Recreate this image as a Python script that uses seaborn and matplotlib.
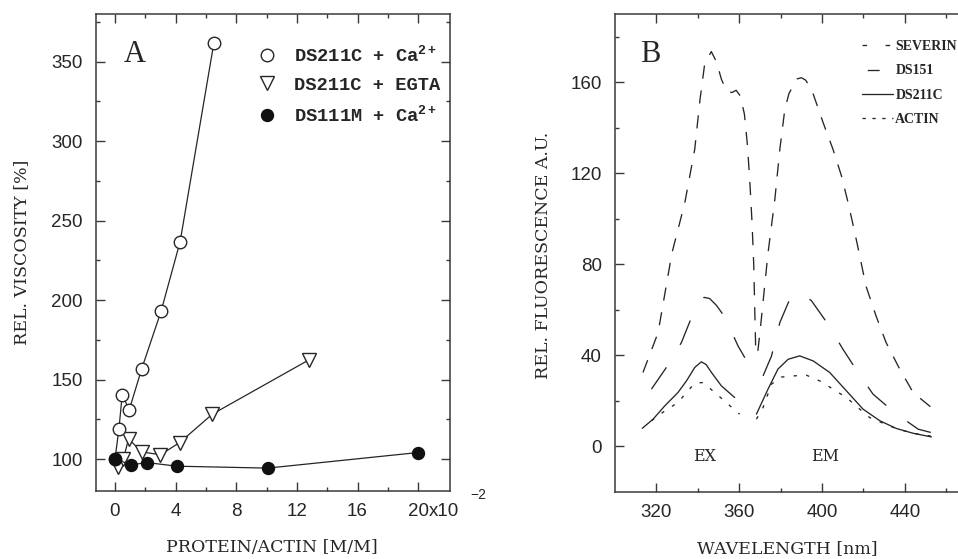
import numpy as np
import pandas as pd
import matplotlib
matplotlib.use("Agg")
import matplotlib.pyplot as plt
from matplotlib.lines import Line2D
from matplotlib.ticker import FixedLocator
import seaborn as sns

# ---------------- Panel A data ----------------
circ_x = [0.0, 0.26, 0.48, 0.94, 1.76, 3.05, 4.3, 6.52]
circ_y = [100, 118.8, 140.6, 131, 156.7, 193.3, 236.9, 361.5]
tri_x = [0.22, 0.55, 0.9, 1.76, 3.0, 4.26, 6.42, 12.8]
tri_y = [95.2, 100, 112.8, 104.6, 102.8, 110.4, 128.3, 162.5]
fill_x = [0.0, 1.05, 2.09, 4.1, 10.07, 20.0]
fill_y = [100.4, 96.4, 97.9, 95.6, 94.4, 104.2]
labels_A = ["DS211C + Ca$^{2+}$", "DS211C + EGTA", "DS111M + Ca$^{2+}$"]
xticks_A = [0, 4, 8, 12, 16, 20]
yticks_A = [100, 150, 200, 250, 300, 350]

# ---------------- Panel B data ----------------
sev_ex_wl = [313.5, 320.8, 327.5, 333.7, 338.5, 341, 343.3, 346.5, 349, 351.4, 354, 356.5, 358.5, 360.5, 362.5, 364, 365.2, 366.2, 367, 367.5, 368]
sev_ex_val = [32.5, 50, 85, 107, 130.5, 152, 168, 173.5, 169, 161.3, 156, 155.5, 156.5, 154, 146, 132, 115, 98, 80, 60, 41]
sev_em_wl = [369, 370, 372, 373.9, 377.2, 379.6, 382, 384, 386, 388, 390, 392, 394.9, 400.5, 405.3, 409.4, 412.6, 415.8, 418.2, 421.2, 426.1, 430.9, 437.5, 444, 452.8]
sev_em_val = [42, 50, 68, 85, 108.6, 130.5, 148, 155, 158.5, 161.5, 162, 161, 157, 142.3, 130.5, 118.8, 107, 94, 83.7, 70.5, 57.3, 45.7, 34, 23.7, 17.1]
ds151_ex_wl = [317.6, 324.8, 332.1, 336.9, 340, 343, 345.7, 349, 353.8, 357, 359.4, 362.7]
ds151_ex_val = [25.2, 34.7, 45.7, 56.6, 62.5, 65.5, 65, 62, 55.9, 49, 44.2, 39]
ds151_em_wl = [371.5, 375.6, 379.6, 384.4, 388, 391, 394.9, 402.9, 410.1, 417.4, 424.6, 435, 446.4, 452.8]
ds151_em_val = [31, 39.8, 54.4, 64.7, 67.5, 67, 64, 53.7, 42.7, 32.5, 23, 14.9, 7.6, 6.1]
ds211_ex_wl = [313.2, 318.4, 324, 330.4, 334.5, 338.5, 341.7, 344, 346.6, 351.4, 357.8]
ds211_ex_val = [8, 12, 17.8, 23.7, 28.8, 34.7, 37.2, 36, 32.5, 26.6, 21.5]
ds211_em_wl = [368.3, 373.9, 378.7, 383.6, 389.2, 395.7, 403.7, 411.8, 419.8, 427.9, 435.9, 444, 452.8]
ds211_em_val = [14.2, 25.2, 34, 38.3, 39.8, 37.6, 32.5, 24.4, 16.4, 11.3, 7.9, 5.8, 4.2]
actin_ex_wl = [317.6, 324, 330.4, 334.5, 338.5, 342.5, 348.2, 354.6, 360.2]
actin_ex_val = [11.3, 15.6, 19.3, 23.7, 27.8, 28.1, 23.7, 18.6, 14.2]
actin_em_wl = [368.3, 371.5, 375.6, 380.4, 386, 392.5, 398.9, 405.3, 411.8, 418.2, 423, 428, 436, 444, 452.8]
actin_em_val = [12, 17.1, 27.4, 30.5, 31, 31.3, 28.8, 25.2, 21.5, 16.4, 12.7, 10.8, 7.8, 5.8, 4.5]
samples_B = ["SEVERIN", "DS151", "DS211C", "ACTIN"]
xticks_B = [320, 360, 400, 440]
yticks_B = [0, 40, 80, 120, 160]

# ---------------- style ----------------
sns.set_theme(style="ticks")
plt.rcParams["font.family"] = ["Liberation Sans", "DejaVu Sans"]
plt.rcParams["mathtext.fontset"] = "custom"
plt.rcParams["mathtext.rm"] = "Liberation Mono:bold"
plt.rcParams["mathtext.it"] = "Liberation Mono:bold"
plt.rcParams["mathtext.bf"] = "Liberation Mono:bold"

INK = "#262626"
SPINE = "#3a3a3a"
mono = {"family": "Liberation Mono", "size": 13.5, "weight": "bold"}
serif_lab = {"family": "DejaVu Serif", "size": 12.5}

fig = plt.figure(figsize=(9.58, 5.59), dpi=100)
W, H = 958, 559
axA = fig.add_axes([96 / W, 1 - 491 / H, (450 - 96) / W, (491 - 14) / H])
axB = fig.add_axes([615 / W, 1 - 492 / H, (967 - 615) / W, (492 - 14) / H])

# ---------------- Panel A ----------------
dfA_tri = pd.DataFrame({"x": tri_x, "y": tri_y})
dfA_circ = pd.DataFrame({"x": circ_x, "y": circ_y})
dfA_fill = pd.DataFrame({"x": fill_x, "y": fill_y})

sns.lineplot(data=dfA_tri, x="x", y="y", ax=axA, sort=False, estimator=None,
             color=INK, lw=0.9, marker="v", markersize=10, markerfacecolor="white",
             markeredgecolor=INK, markeredgewidth=1.0)
sns.lineplot(data=dfA_circ, x="x", y="y", ax=axA, sort=False, estimator=None,
             color=INK, lw=0.9, marker="o", markersize=9, markerfacecolor="white",
             markeredgecolor=INK, markeredgewidth=1.0)
sns.lineplot(data=dfA_fill, x="x", y="y", ax=axA, sort=False, estimator=None,
             color=INK, lw=0.9, marker="o", markersize=8.6, markerfacecolor="#111111",
             markeredgecolor="#111111", markeredgewidth=1.0)

axA.set_xlim(-1.25, 22.1)
axA.set_ylim(80, 380)
axA.xaxis.set_major_locator(FixedLocator(xticks_A))
axA.xaxis.set_minor_locator(FixedLocator([2, 6, 10, 14, 18]))
axA.yaxis.set_major_locator(FixedLocator(yticks_A))
axA.yaxis.set_minor_locator(FixedLocator([125, 175, 225, 275, 325, 375]))
axA.set_xticklabels([str(t) for t in xticks_A])
axA.set_yticklabels([str(t) for t in yticks_A])

axA.annotate("x10", xy=(20, 0), xycoords=("data", "axes fraction"),
             xytext=(7.3, -8.6), textcoords="offset points", ha="left", va="top",
             fontsize=13.5, color=INK)
axA.annotate("\u22122", xy=(20, 0), xycoords=("data", "axes fraction"),
             xytext=(37.5, -2.8), textcoords="offset points", ha="left", va="center",
             fontsize=10, color=INK)

axA.text(0.110, 0.916, "A", transform=axA.transAxes, ha="center", va="center",
         fontsize=22, family="Liberation Serif", color=INK)

hA = [Line2D([], [], ls="none", marker="o", ms=9, mfc="white", mec=INK, mew=1.0),
      Line2D([], [], ls="none", marker="v", ms=10, mfc="white", mec=INK, mew=1.0),
      Line2D([], [], ls="none", marker="o", ms=8.6, mfc="#111111", mec="#111111")]
legA = axA.legend(hA, labels_A, loc="upper left",
                  bbox_to_anchor=((258 - 96) / 354, 1 - (45 - 14) / 477),
                  frameon=False, borderaxespad=0, borderpad=0, handlelength=1.0,
                  handletextpad=0.9, labelspacing=0.6, prop=mono)
for t in legA.get_texts():
    t.set_color(INK)

axA.set_xlabel("PROTEIN/ACTIN [M/M]", fontdict=serif_lab, color=INK)
axA.set_ylabel("REL. VISCOSITY [%]", fontdict=serif_lab, color=INK)
axA.xaxis.set_label_coords(0.497, -0.10)
axA.yaxis.set_label_coords(-0.185, 0.5)

# ---------------- Panel B ----------------
segs = [
    ("SEVERIN", "sev_ex", sev_ex_wl, sev_ex_val),
    ("SEVERIN", "sev_em", sev_em_wl, sev_em_val),
    ("DS151", "ds151_ex", ds151_ex_wl, ds151_ex_val),
    ("DS151", "ds151_em", ds151_em_wl, ds151_em_val),
    ("DS211C", "ds211_ex", ds211_ex_wl, ds211_ex_val),
    ("DS211C", "ds211_em", ds211_em_wl, ds211_em_val),
    ("ACTIN", "actin_ex", actin_ex_wl, actin_ex_val),
    ("ACTIN", "actin_em", actin_em_wl, actin_em_val),
]
rows = []
for samp, seg, wl, val in segs:
    for a, b in zip(wl, val):
        rows.append({"sample": samp, "segment": seg, "wl": a, "val": b})
dfB = pd.DataFrame(rows)

dash_map = {"SEVERIN": (10, 9), "DS151": (20, 20), "DS211C": "", "ACTIN": (2.5, 7)}
sns.lineplot(data=dfB, x="wl", y="val", style="sample", style_order=samples_B,
             units="segment", estimator=None, sort=False, dashes=dash_map,
             color=INK, lw=0.95, legend=False, ax=axB)

axB.set_xlim(300, 470)
axB.set_ylim(-20, 190)
axB.xaxis.set_major_locator(FixedLocator(xticks_B))
axB.xaxis.set_minor_locator(FixedLocator([340, 380, 420, 460]))
axB.yaxis.set_major_locator(FixedLocator(yticks_B))
axB.yaxis.set_minor_locator(FixedLocator([20, 60, 100, 140, 180]))
axB.set_xticklabels([str(t) for t in xticks_B])
axB.set_yticklabels([str(t) for t in yticks_B])

axB.text(0.101, 0.916, "B", transform=axB.transAxes, ha="center", va="center",
         fontsize=22, family="Liberation Serif", color=INK)
axB.text(343.3, -4.3, "EX", ha="center", va="center", fontsize=11.5,
         family="DejaVu Serif", color=INK)
axB.text(401.3, -4.3, "EM", ha="center", va="center", fontsize=11.5,
         family="DejaVu Serif", color=INK)

hB = [Line2D([], [], color=INK, lw=0.95, ls=(0, (3.5, 14))),
      Line2D([], [], color=INK, lw=0.95, ls=(28, (9, 23))),
      Line2D([], [], color=INK, lw=0.95),
      Line2D([], [], color=INK, lw=0.95, ls=(0, (2.5, 5)))]
legB = axB.legend(hB, samples_B, loc="upper left",
                  bbox_to_anchor=((862 - 615) / 352, 1 - (40 - 14) / 478),
                  frameon=False, borderaxespad=0, borderpad=0, handlelength=2.2,
                  handletextpad=0.2, labelspacing=0.82,
                  prop={"family": "Liberation Serif", "weight": "bold", "size": 10})
for t in legB.get_texts():
    t.set_color(INK)

axB.set_xlabel("WAVELENGTH [nm]", fontdict=serif_lab, color=INK)
axB.set_ylabel("REL. FLUORESCENCE A.U.", fontdict=serif_lab, color=INK)
axB.xaxis.set_label_coords(0.489, -0.10)
axB.yaxis.set_label_coords(-0.18, 0.495)

# ---------------- common axis styling ----------------
for ax in (axA, axB):
    for sp in ax.spines.values():
        sp.set_visible(True)
        sp.set_color(SPINE)
        sp.set_linewidth(1.1)
    ax.tick_params(which="both", direction="in", top=True, right=True,
                   color=SPINE, width=1.0, labelcolor=INK, labelsize=13.5)
    ax.tick_params(which="major", length=6.5)
    ax.tick_params(which="minor", length=3.2)
    ax.tick_params(axis="y", pad=9.5)
    ax.tick_params(axis="x", pad=8.3)
    for lab in ax.get_xticklabels() + ax.get_yticklabels():
        lab.set_family("Liberation Sans")
    ax.set_facecolor("white")

fig.savefig("out.png", dpi=100, facecolor="white")
